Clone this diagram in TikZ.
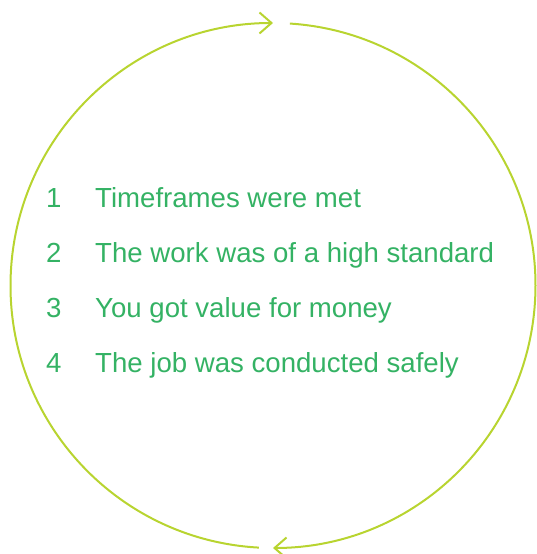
\documentclass[tikz,border=0pt]{standalone}
\usepackage{fontspec}
\setmainfont{Liberation Sans}
\usetikzlibrary{arrows.meta,calc}
\definecolor{ringlime}{RGB}{184,212,48}
\definecolor{textgreen}{RGB}{52,178,100}
\begin{document}
\begin{tikzpicture}[x=1pt,y=1pt,
  ring/.style={draw=ringlime,line width=2pt,
    -{Straight Barb[length=12pt,width=21pt,line width=2pt]}},
  num/.style={anchor=base west,inner sep=0pt,text=textgreen,font=\fontsize{27.6}{32}\selectfont},
  item/.style={anchor=base west,inner sep=0pt,text=textgreen,font=\fontsize{27.6}{32}\selectfont}]
  \useasboundingbox (0,0) rectangle (537,554);
  \coordinate (c) at (273,268.5);
  % two arcs running clockwise round the list
  \draw[ring] ($(c)+(266.9:262.5)$) arc[start angle=266.9,end angle=90,radius=262.5];
  \draw[ring] ($(c)+(86.3:262.5)$) arc[start angle=86.3,end angle=-90,radius=262.5];
  % numbered list
  \node[num]  (n1) at (46,346) {1};
  \node[item] (t1) at (95,346) {Timeframes were met};
  \node[num]  (n2) at (46,291) {2};
  \node[item] (t2) at (95,291) {The work was of a high standard};
  \node[num]  (n3) at (46,236) {3};
  \node[item] (t3) at (95,236) {You got value for money};
  \node[num]  (n4) at (46,181) {4};
  \node[item] (t4) at (95,181) {The job was conducted safely};
\end{tikzpicture}
\end{document}
